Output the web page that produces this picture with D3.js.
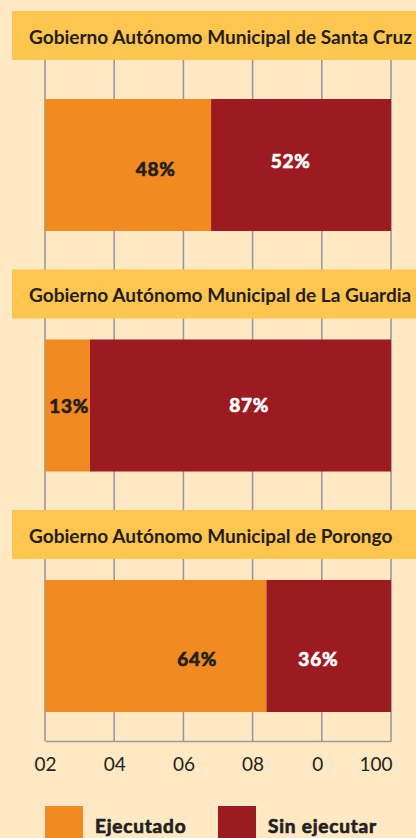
<!DOCTYPE html>
<html>
<head>
<meta charset="utf-8">
<script src="https://cdn.jsdelivr.net/npm/d3@7"></script>
<style>
  html, body { margin: 0; padding: 0; background: #fee9c4; }
  svg { display: block; }
</style>
</head>
<body>
<svg width="416" height="838"></svg>
<script>
var svg = d3.select('svg');
var width = +svg.attr('width');
var height = +svg.attr('height');

// data
var municipios = ['Gobierno Autónomo Municipal de Santa Cruz',
	'Gobierno Autónomo Municipal de La Guardia',
	'Gobierno Autónomo Municipal de Porongo'];
var ejecutado = [48, 13, 64];
var sinEjecutar = [52, 87, 36];
var tickValues = [0, 20, 40, 60, 80, 100];
var tickLabels = ['02', '04', '06', '08', '0', '100'];
var series = ['Ejecutado', 'Sin ejecutar'];

var colorScale = d3.scaleOrdinal().domain(series).range(['#f28a22', '#9c1b21']);
var labelColor = { 'Ejecutado': '#231f20', 'Sin ejecutar': '#ffffff' };

// label nudges (in value units / px) to sit where the original put them
var labelShift = [[8, -3], [0.5, 2.5], [12, -3]];
var labelDy = [[11, 3], [7, 6], [20, 20]];

var rows = municipios.map(function (m, i) {
	return { name: m, 'Ejecutado': ejecutado[i], 'Sin ejecutar': sinEjecutar[i] };
});

var x = d3.scaleLinear().domain([0, 100]).range([45, 391]);
var y = d3.scaleBand().domain(municipios).range([99, 712]).paddingInner(0.451).paddingOuter(0);

var gridTop = 60, gridBottom = 741;

// grid
svg.append('g')
	.selectAll('line')
	.data(tickValues)
	.enter()
	.append('line')
	.attr('x1', d => x(d)).attr('x2', d => x(d))
	.attr('y1', gridTop).attr('y2', gridBottom)
	.attr('stroke', '#9a9a9a')
	.attr('stroke-width', 1.6);

// axis
var axis = d3.axisBottom(x)
	.tickValues(tickValues)
	.tickSize(0)
	.tickPadding(14)
	.tickFormat((d, i) => tickLabels[i]);

var axisG = svg.append('g')
	.attr('transform', 'translate(0,' + gridBottom + ')')
	.call(axis);
axisG.select('.domain').attr('stroke', '#9a9a9a').attr('stroke-width', 1.6);
axisG.selectAll('text')
	.attr('fill', '#231f20')
	.style('font-family', 'Lato, sans-serif')
	.style('font-size', '19px')
	.attr('dy', '0.85em')
	.attr('text-anchor', (d, i) => i >= 4 ? 'end' : 'middle')
	.attr('dx', (d, i) => i >= 4 ? 1 : 0);

// title bands
var bandY = municipios.map((m, i) => i === 0 ? 11 : y(m) - 70);
var titleG = svg.append('g');
titleG.selectAll('rect')
	.data(municipios)
	.enter()
	.append('rect')
	.attr('x', 12)
	.attr('y', (d, i) => bandY[i])
	.attr('width', width - 12)
	.attr('height', 49)
	.attr('fill', '#fec54f');

var titles = titleG.selectAll('text')
	.data(municipios)
	.enter()
	.append('text')
	.attr('x', 29)
	.attr('y', (d, i) => bandY[i] + 33)
	.attr('fill', '#231f20')
	.style('font-family', 'Lato, sans-serif')
	.style('font-weight', 'bold')
	.style('font-size', '16px')
	.text(d => d);

// fit title size to the reference width
var w0 = titles.node().getComputedTextLength();
var fs = 16 * 383 / w0;
titles.style('font-size', fs + 'px');

// stacked bars
var stack = d3.stack().keys(series);
var stacked = stack(rows);

var barG = svg.append('g');
stacked.forEach(function (s, si) {
	barG.append('g')
		.attr('fill', colorScale(s.key))
		.selectAll('rect')
		.data(s)
		.enter()
		.append('rect')
		.attr('x', d => x(d[0]))
		.attr('y', d => y(d.data.name))
		.attr('width', d => x(d[1]) - x(d[0]))
		.attr('height', y.bandwidth());

	barG.append('g')
		.selectAll('text')
		.data(s)
		.enter()
		.append('text')
		.attr('x', (d, i) => x((d[0] + d[1]) / 2 + labelShift[i][si]))
		.attr('y', (d, i) => y(d.data.name) + y.bandwidth() / 2 + labelDy[i][si])
		.attr('text-anchor', 'middle')
		.attr('fill', labelColor[s.key])
		.attr('stroke', labelColor[s.key])
		.attr('stroke-width', 0.7)
		.style('font-family', 'Lato, sans-serif')
		.style('font-weight', 'bold')
		.style('font-size', '19px')
		.style('letter-spacing', '0.8px')
		.text(d => (d[1] - d[0]) + '%');
});

// legend
var legend = svg.append('g');
var legendX = [45, 218];
series.forEach(function (k, i) {
	legend.append('rect')
		.attr('x', legendX[i]).attr('y', 806)
		.attr('width', 38).attr('height', 38)
		.attr('fill', colorScale(k));
	legend.append('text')
		.attr('x', legendX[i] + 50)
		.attr('y', 833)
		.attr('fill', '#231f20')
		.attr('stroke', '#231f20')
		.attr('stroke-width', 0.7)
		.style('font-family', 'Lato, sans-serif')
		.style('font-weight', 'bold')
		.style('font-size', '19px')
		.style('letter-spacing', '0.8px')
		.text(k);
});
</script>
</body>
</html>
